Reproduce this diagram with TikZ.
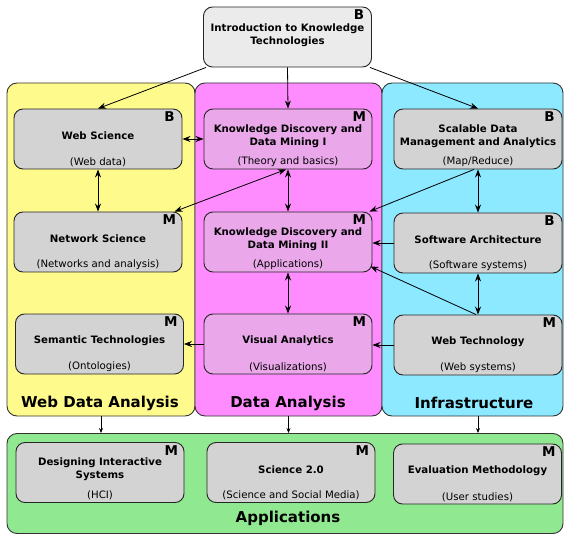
\documentclass[tikz,border=0pt]{standalone}
\usepackage{fontspec}
\setmainfont{DejaVu Sans}
\usetikzlibrary{arrows.meta,calc}
\definecolor{cyel}{RGB}{255,250,140}
\definecolor{cmag}{RGB}{255,140,255}
\definecolor{ccya}{RGB}{140,233,255}
\definecolor{cgre}{RGB}{144,232,144}
\definecolor{boxgrey}{RGB}{211,211,211}
\definecolor{boxpink}{RGB}{234,168,234}
\definecolor{introgrey}{RGB}{235,235,235}
\newcommand\mycourse[7]{%
  \node[#1] (#2) at (#3,#4) {};
  \node[ttl] (#2-t) at ($(#2.center)+(0,-3)$) {#6};
  \node[subt] (#2-s) at ($(#2.south)+(0,-7.5)$) {#7};
  \node[badge] (#2-b) at ($(#2.north east)+(-13,8.5)$) {#5};
}
\begin{document}
\begin{tikzpicture}[x=1pt,y=-1pt,
  course/.style={draw=black!85, line width=0.9pt, rounded corners=9pt, fill=boxgrey,
    minimum width=168pt, minimum height=60pt, inner sep=0pt},
  pinkc/.style={course, fill=boxpink},
  grp/.style={draw=black!80, line width=0.9pt, rounded corners=10pt, inner sep=0pt},
  ttl/.style={font=\fontsize{10.2}{13.2}\selectfont\bfseries, align=center, inner sep=0pt},
  subt/.style={font=\fontsize{10.2}{11}\selectfont, inner sep=0pt},
  badge/.style={font=\fontsize{13.5}{14}\selectfont\bfseries, inner sep=0pt},
  glabel/.style={font=\fontsize{15}{16}\selectfont\bfseries, inner sep=0pt},
  arr/.style={-{Stealth[length=8pt,width=6pt]}, line width=0.8pt},
  darr/.style={{Stealth[length=8pt,width=6pt]}-{Stealth[length=8pt,width=6pt]}, line width=0.8pt},
  sarr/.style={-{Stealth[length=5pt,width=4pt]}, line width=0.7pt}]
\useasboundingbox (0,0) rectangle (564,534);

% groups
\node[grp, fill=cyel, minimum width=188pt, minimum height=333pt] (gy) at (101,249.5) {};
\node[grp, fill=cmag, minimum width=187pt, minimum height=333pt] (gm) at (288.5,249.5) {};
\node[grp, fill=ccya, minimum width=181pt, minimum height=333pt] (gc) at (472.5,249.5) {};
\node[grp, fill=cgre, minimum width=556pt, minimum height=100pt] (app) at (285,483.5) {};
\node[glabel] (gy-l) at (100,403) {Web Data Analysis};
\node[glabel] (gm-l) at (288,403) {Data Analysis};
\node[glabel] (gc-l) at (474,403) {Infrastructure};
\node[glabel] (app-l) at (288,518) {Applications};

% intro
\node[course, fill=introgrey] (intro) at (287.5,37) {};
\node[ttl] (intro-t) at (287.5,35) {Introduction to Knowledge\\Technologies};
\node[badge] (intro-b) at ($(intro.north east)+(-13,8)$) {B};

% courses
\mycourse{course}{ws}{98}{139}{B}{Web Science}{(Web data)}
\mycourse{pinkc}{kd1}{288}{139}{M}{Knowledge Discovery and\\Data Mining I}{(Theory and basics)}
\mycourse{course}{sda}{478}{139}{B}{Scalable Data\\Management and Analytics}{(Map/Reduce)}
\mycourse{course}{ns}{98}{242}{M}{Network Science}{(Networks and analysis)}
\mycourse{pinkc}{kd2}{288}{242}{M}{Knowledge Discovery and\\Data Mining II}{(Applications)}
\mycourse{course}{sa}{478}{243}{B}{Software Architecture}{(Software systems)}
\mycourse{course}{st}{99.5}{344}{M}{Semantic Technologies}{(Ontologies)}
\mycourse{pinkc}{va}{288}{344}{M}{Visual Analytics}{(Visualizations)}
\mycourse{course}{wt}{478}{345}{M}{Web Technology}{(Web systems)}
\mycourse{course}{dis}{100}{472.5}{M}{Designing Interactive\\Systems}{(HCI)}
\mycourse{course}{sc}{291}{472.5}{M}{Science 2.0}{(Science and Social Media)}
\mycourse{course}{em}{477.5}{474}{M}{Evaluation Methodology}{(User studies)}

% connectors
\draw[arr] ($(intro.south west)+(3,0)$) -- (ws.north);
\draw[arr] (intro.south) -- (kd1.north);
\draw[arr] ($(intro.south east)+(-2,0)$) -- (sda.north);
\draw[darr] (ws.east) -- (kd1.west);
\draw[darr] (ws.south) -- (ns.north);
\draw[darr] (kd1.south) -- (kd2.north);
\draw[darr] ($(ns.north east)+(-8,0)$) -- ($(kd1.south)+(-2,0)$);
\draw[arr] ($(sda.south)+(-4,0)$) -- ($(kd2.north east)+(-3,0)$);
\draw[darr] (sda.south) -- (sa.north);
\draw[arr] (sa.west) -- (sa.west -| kd2.east);
\draw[arr] ($(wt.north)+(-2,0)$) -- ($(kd2.south east)+(-2,-6)$);
\draw[darr] (sa.south) -- (wt.north);
\draw[darr] (kd2.south) -- (va.north);
\draw[arr] (va.west) -- (va.west -| st.east);
\draw[arr] (wt.west) -- (wt.west -| va.east);
\draw[sarr] (gy.south) -- (gy.south |- app.north);
\draw[sarr] (gm.south) -- (gm.south |- app.north);
\draw[sarr] (gc.south -| wt.south) -- (wt.south |- app.north);
\end{tikzpicture}
\end{document}
